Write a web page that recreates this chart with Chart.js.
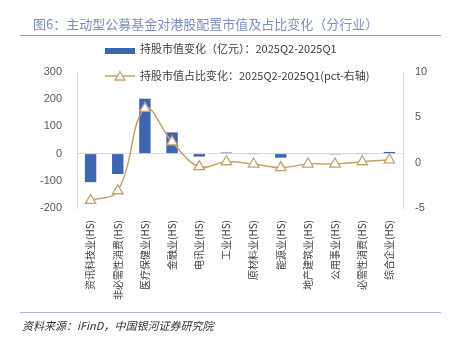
<!DOCTYPE html>
<html><head><meta charset="utf-8">
<script src="https://cdn.jsdelivr.net/npm/chart.js@4/dist/chart.umd.min.js"></script>
<style>
html,body{margin:0;padding:0;background:#fff;}
#wrap{position:relative;width:452px;height:338px;overflow:hidden;font-family:"Noto Sans CJK SC","Noto Sans",sans-serif;}
#c{position:absolute;left:0;top:0;}
.t{position:absolute;white-space:nowrap;}
#title{left:33px;top:15px;font-size:13px;color:#7d8fc2;line-height:18px;}
#rule1{position:absolute;left:20px;top:35px;width:421px;height:1px;background:#8fa3d2;}
#rule2{position:absolute;left:20px;top:312px;width:421px;height:1px;background:#a9b8dc;}
#src{left:22px;top:317px;font-size:11px;color:#333;font-style:italic;line-height:16px;}
.lg{position:absolute;font-size:11px;color:#404040;line-height:14px;white-space:nowrap;}
#lg1{left:105px;top:41px;}
#lg2{left:105px;top:68px;}
.lg .ic{display:inline-block;width:30px;vertical-align:middle;margin-right:5px;}
</style></head>
<body><div id="wrap">
<canvas id="c" width="452" height="338"></canvas>
<div class="t" id="title">图6：主动型公募基金对港股配置市值及占比变化（分行业）</div>
<div id="rule1"></div>
<div class="lg" id="lg1"><span class="ic"><svg width="30" height="8"><rect x="0" y="1" width="30" height="6" fill="#3d65b2"/></svg></span>持股市值变化（亿元）：2025Q2-2025Q1</div>
<div class="lg" id="lg2"><span class="ic"><svg width="30" height="12"><line x1="0" y1="6" x2="30" y2="6" stroke="#c4a070" stroke-width="1.5"/><polygon points="15,1.5 20,10 10,10" fill="#fff" stroke="#c4a070" stroke-width="1.3"/></svg></span>持股市值占比变化：2025Q2-2025Q1(pct-右轴)</div>
<div id="rule2"></div>
<div class="t" id="src">资料来源：iFinD，中国银河证券研究院</div>
</div>
<script>
const categories = ["资讯科技业(HS)","非必需性消费(HS)","医疗保健业(HS)","金融业(HS)","电讯业(HS)","工业(HS)","原材料业(HS)","能源业(HS)","地产建筑业(HS)","公用事业(HS)","必需性消费(HS)","综合企业(HS)"];
const valueChange = [-105, -75, 202, 78, -11, 4, -1, -15, -2, -3, -1, 6];
const shareChange = [-4.17, -3.1, 5.98, 2.3, -0.44, 0.1, -0.15, -0.55, -0.15, -0.15, 0.1, 0.3];
const leftTicks = [-200, -100, 0, 100, 200, 300];
const rightTicks = [-5, 0, 5, 10];

const tickFont = {family: "'Liberation Sans','DejaVu Sans',sans-serif", size: 11};
new Chart(document.getElementById('c'), {
  data: {
    labels: categories,
    datasets: [
      {type:'line', label:'持股市值占比变化', data: shareChange, yAxisID:'y2',
       borderColor:'#c4a070', borderWidth:1.5, tension:0.4,
       pointStyle:'triangle', pointRadius:6, pointBorderWidth:1.3,
       pointBackgroundColor:'#fff', pointBorderColor:'#c4a070', order:0},
      {type:'bar', label:'持股市值变化', data: valueChange, yAxisID:'y',
       backgroundColor:'#3d65b2', barPercentage:0.42, categoryPercentage:1, order:1}
    ]
  },
  options: {
    responsive:false, animation:false,
    layout:{padding:{top:72, bottom:0, left:0, right:0}},
    plugins:{legend:{display:false}, tooltip:{enabled:false}},
    scales:{
      x:{
        grid:{display:false, drawTicks:false}, border:{display:false},
        ticks:{minRotation:90, maxRotation:90, autoSkip:false, padding:12, color:'#404040',
               font:{family:"'Noto Sans CJK SC',sans-serif", size:10}},
        afterFit(s){ s.height = 130; }
      },
      y:{
        position:'left', min:-200, max:300,
        afterBuildTicks(s){ s.ticks = leftTicks.map(v=>({value:v})); },
        grid:{drawTicks:false, color:(ctx)=> ctx.tick && ctx.tick.value===0 ? '#d9d9d9' : 'rgba(0,0,0,0)', lineWidth:1},
        border:{display:true, color:'#d9d9d9'},
        ticks:{padding:15, color:'#595959', font:tickFont},
        afterFit(s){ s.width = 77; }
      },
      y2:{
        position:'right', min:-5, max:10,
        afterBuildTicks(s){ s.ticks = rightTicks.map(v=>({value:v})); },
        grid:{display:false, drawTicks:false},
        border:{display:true, color:'#d9d9d9'},
        ticks:{padding:12, color:'#595959', font:tickFont},
        afterFit(s){ s.width = 49; }
      }
    }
  }
});
</script>
</body></html>
